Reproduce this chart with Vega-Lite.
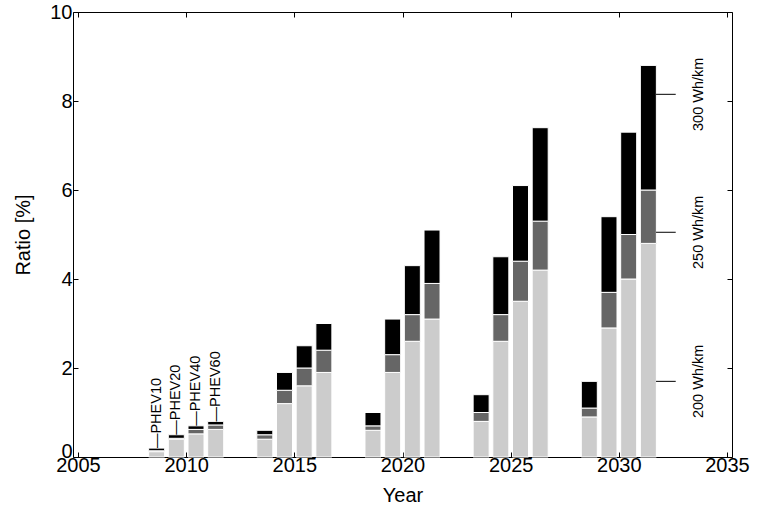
{
  "$schema": "https://vega.github.io/schema/vega-lite/v6.json",
  "width": 659,
  "height": 445,
  "autosize": {"type": "none"},
  "padding": {"left": 73, "top": 12, "right": 27, "bottom": 59},
  "background": "white",
  "config": {
    "font": "Liberation Sans",
    "view": {"stroke": "black", "strokeWidth": 1},
    "axis": {
      "grid": false,
      "domain": false,
      "tickColor": "black",
      "tickWidth": 1,
      "labelColor": "black",
      "titleColor": "black",
      "labelFont": "Liberation Sans",
      "titleFont": "Liberation Sans",
      "labelFontSize": 20,
      "titleFontSize": 20,
      "titleFontWeight": "normal"
    }
  },
  "datasets": {
    "shares": [
      {"year": 2010, "vehicle": "PHEV10", "battery": "200 Wh/km", "ratio": 0.12},
      {"year": 2010, "vehicle": "PHEV10", "battery": "250 Wh/km", "ratio": 0.02},
      {"year": 2010, "vehicle": "PHEV10", "battery": "300 Wh/km", "ratio": 0.06},
      {"year": 2010, "vehicle": "PHEV20", "battery": "200 Wh/km", "ratio": 0.4},
      {"year": 2010, "vehicle": "PHEV20", "battery": "250 Wh/km", "ratio": 0.02},
      {"year": 2010, "vehicle": "PHEV20", "battery": "300 Wh/km", "ratio": 0.08},
      {"year": 2010, "vehicle": "PHEV40", "battery": "200 Wh/km", "ratio": 0.52},
      {"year": 2010, "vehicle": "PHEV40", "battery": "250 Wh/km", "ratio": 0.1},
      {"year": 2010, "vehicle": "PHEV40", "battery": "300 Wh/km", "ratio": 0.08},
      {"year": 2010, "vehicle": "PHEV60", "battery": "200 Wh/km", "ratio": 0.62},
      {"year": 2010, "vehicle": "PHEV60", "battery": "250 Wh/km", "ratio": 0.1},
      {"year": 2010, "vehicle": "PHEV60", "battery": "300 Wh/km", "ratio": 0.08},

      {"year": 2015, "vehicle": "PHEV10", "battery": "200 Wh/km", "ratio": 0.4},
      {"year": 2015, "vehicle": "PHEV10", "battery": "250 Wh/km", "ratio": 0.1},
      {"year": 2015, "vehicle": "PHEV10", "battery": "300 Wh/km", "ratio": 0.1},
      {"year": 2015, "vehicle": "PHEV20", "battery": "200 Wh/km", "ratio": 1.2},
      {"year": 2015, "vehicle": "PHEV20", "battery": "250 Wh/km", "ratio": 0.3},
      {"year": 2015, "vehicle": "PHEV20", "battery": "300 Wh/km", "ratio": 0.4},
      {"year": 2015, "vehicle": "PHEV40", "battery": "200 Wh/km", "ratio": 1.6},
      {"year": 2015, "vehicle": "PHEV40", "battery": "250 Wh/km", "ratio": 0.4},
      {"year": 2015, "vehicle": "PHEV40", "battery": "300 Wh/km", "ratio": 0.5},
      {"year": 2015, "vehicle": "PHEV60", "battery": "200 Wh/km", "ratio": 1.9},
      {"year": 2015, "vehicle": "PHEV60", "battery": "250 Wh/km", "ratio": 0.5},
      {"year": 2015, "vehicle": "PHEV60", "battery": "300 Wh/km", "ratio": 0.6},

      {"year": 2020, "vehicle": "PHEV10", "battery": "200 Wh/km", "ratio": 0.6},
      {"year": 2020, "vehicle": "PHEV10", "battery": "250 Wh/km", "ratio": 0.1},
      {"year": 2020, "vehicle": "PHEV10", "battery": "300 Wh/km", "ratio": 0.3},
      {"year": 2020, "vehicle": "PHEV20", "battery": "200 Wh/km", "ratio": 1.9},
      {"year": 2020, "vehicle": "PHEV20", "battery": "250 Wh/km", "ratio": 0.4},
      {"year": 2020, "vehicle": "PHEV20", "battery": "300 Wh/km", "ratio": 0.8},
      {"year": 2020, "vehicle": "PHEV40", "battery": "200 Wh/km", "ratio": 2.6},
      {"year": 2020, "vehicle": "PHEV40", "battery": "250 Wh/km", "ratio": 0.6},
      {"year": 2020, "vehicle": "PHEV40", "battery": "300 Wh/km", "ratio": 1.1},
      {"year": 2020, "vehicle": "PHEV60", "battery": "200 Wh/km", "ratio": 3.1},
      {"year": 2020, "vehicle": "PHEV60", "battery": "250 Wh/km", "ratio": 0.8},
      {"year": 2020, "vehicle": "PHEV60", "battery": "300 Wh/km", "ratio": 1.2},

      {"year": 2025, "vehicle": "PHEV10", "battery": "200 Wh/km", "ratio": 0.8},
      {"year": 2025, "vehicle": "PHEV10", "battery": "250 Wh/km", "ratio": 0.2},
      {"year": 2025, "vehicle": "PHEV10", "battery": "300 Wh/km", "ratio": 0.4},
      {"year": 2025, "vehicle": "PHEV20", "battery": "200 Wh/km", "ratio": 2.6},
      {"year": 2025, "vehicle": "PHEV20", "battery": "250 Wh/km", "ratio": 0.6},
      {"year": 2025, "vehicle": "PHEV20", "battery": "300 Wh/km", "ratio": 1.3},
      {"year": 2025, "vehicle": "PHEV40", "battery": "200 Wh/km", "ratio": 3.5},
      {"year": 2025, "vehicle": "PHEV40", "battery": "250 Wh/km", "ratio": 0.9},
      {"year": 2025, "vehicle": "PHEV40", "battery": "300 Wh/km", "ratio": 1.7},
      {"year": 2025, "vehicle": "PHEV60", "battery": "200 Wh/km", "ratio": 4.2},
      {"year": 2025, "vehicle": "PHEV60", "battery": "250 Wh/km", "ratio": 1.1},
      {"year": 2025, "vehicle": "PHEV60", "battery": "300 Wh/km", "ratio": 2.1},

      {"year": 2030, "vehicle": "PHEV10", "battery": "200 Wh/km", "ratio": 0.9},
      {"year": 2030, "vehicle": "PHEV10", "battery": "250 Wh/km", "ratio": 0.2},
      {"year": 2030, "vehicle": "PHEV10", "battery": "300 Wh/km", "ratio": 0.6},
      {"year": 2030, "vehicle": "PHEV20", "battery": "200 Wh/km", "ratio": 2.9},
      {"year": 2030, "vehicle": "PHEV20", "battery": "250 Wh/km", "ratio": 0.8},
      {"year": 2030, "vehicle": "PHEV20", "battery": "300 Wh/km", "ratio": 1.7},
      {"year": 2030, "vehicle": "PHEV40", "battery": "200 Wh/km", "ratio": 4.0},
      {"year": 2030, "vehicle": "PHEV40", "battery": "250 Wh/km", "ratio": 1.0},
      {"year": 2030, "vehicle": "PHEV40", "battery": "300 Wh/km", "ratio": 2.3},
      {"year": 2030, "vehicle": "PHEV60", "battery": "200 Wh/km", "ratio": 4.8},
      {"year": 2030, "vehicle": "PHEV60", "battery": "250 Wh/km", "ratio": 1.2},
      {"year": 2030, "vehicle": "PHEV60", "battery": "300 Wh/km", "ratio": 2.8}
    ],
    "tags": [
      {"label": "200 Wh/km", "level": 1.7},
      {"label": "250 Wh/km", "level": 5.05},
      {"label": "300 Wh/km", "level": 8.15}
    ]
  },
  "layer": [
    {
      "data": {"name": "shares"},
      "transform": [
        {"calculate": "datum.year + (indexof(['PHEV10', 'PHEV20', 'PHEV40', 'PHEV60'], datum.vehicle) - 1.5) * 0.91", "as": "slot"}
      ],
      "mark": {"type": "bar", "width": 16, "stroke": "white", "strokeWidth": 1},
      "encoding": {
        "x": {
          "field": "slot",
          "type": "quantitative",
          "scale": {"domain": [2005, 2035], "nice": false, "zero": false},
          "axis": {
            "orient": "bottom",
            "values": [2005, 2010, 2015, 2020, 2025, 2030, 2035],
            "format": "d",
            "tickSize": -5,
            "labelPadding": 3,
            "title": "Year",
            "titlePadding": 10
          }
        },
        "y": {
          "field": "ratio",
          "type": "quantitative",
          "stack": "zero",
          "scale": {"domain": [0, 10], "nice": false},
          "axis": {
            "orient": "left",
            "values": [0, 2, 4, 6, 8, 10],
            "tickSize": -5,
            "labelPadding": 6,
            "labelBaseline": {"condition": {"test": "datum.value === 0", "value": "alphabetic"}, "value": "middle"},
            "title": "Ratio [%]",
            "titlePadding": 16
          }
        },
        "color": {
          "field": "battery",
          "type": "nominal",
          "scale": {
            "domain": ["200 Wh/km", "250 Wh/km", "300 Wh/km"],
            "range": ["#cccccc", "#666666", "#000000"]
          },
          "legend": null
        },
        "order": {"field": "battery", "sort": "ascending"}
      }
    },
    {
      "data": {"name": "shares"},
      "transform": [
        {"filter": "datum.year === 2010"},
        {"aggregate": [{"op": "sum", "field": "ratio", "as": "total"}], "groupby": ["year", "vehicle"]},
        {"calculate": "datum.year + (indexof(['PHEV10', 'PHEV20', 'PHEV40', 'PHEV60'], datum.vehicle) - 1.5) * 0.91", "as": "slot"},
        {"calculate": "'—' + datum.vehicle", "as": "tag"}
      ],
      "mark": {"type": "text", "angle": 270, "align": "left", "baseline": "middle", "fontSize": 14.5, "color": "black"},
      "encoding": {
        "x": {"field": "slot", "type": "quantitative", "axis": null},
        "y": {"field": "total", "type": "quantitative", "axis": null},
        "text": {"field": "tag"}
      }
    },
    {
      "data": {"name": "tags"},
      "mark": {"type": "rule", "color": "black", "strokeWidth": 1},
      "encoding": {
        "x": {"datum": 2031.72, "type": "quantitative", "axis": null},
        "x2": {"datum": 2032.63},
        "y": {"field": "level", "type": "quantitative", "axis": null}
      }
    },
    {
      "data": {"name": "tags"},
      "mark": {"type": "text", "angle": 270, "align": "center", "baseline": "middle", "fontSize": 14.5, "color": "black"},
      "encoding": {
        "x": {"datum": 2033.7, "type": "quantitative", "axis": null},
        "y": {"field": "level", "type": "quantitative", "axis": null},
        "text": {"field": "label"}
      }
    },
    {
      "data": {"name": "shares"},
      "mark": {"type": "point", "opacity": 0},
      "encoding": {
        "x": {
          "field": "year",
          "type": "quantitative",
          "axis": {
            "orient": "top",
            "values": [2005, 2010, 2015, 2020, 2025, 2030, 2035],
            "labels": false,
            "tickSize": -5,
            "title": null
          }
        },
        "y": {
          "field": "ratio",
          "type": "quantitative",
          "axis": {
            "orient": "right",
            "values": [0, 2, 4, 6, 8, 10],
            "labels": false,
            "tickSize": -5,
            "title": null
          }
        }
      }
    }
  ]
}
